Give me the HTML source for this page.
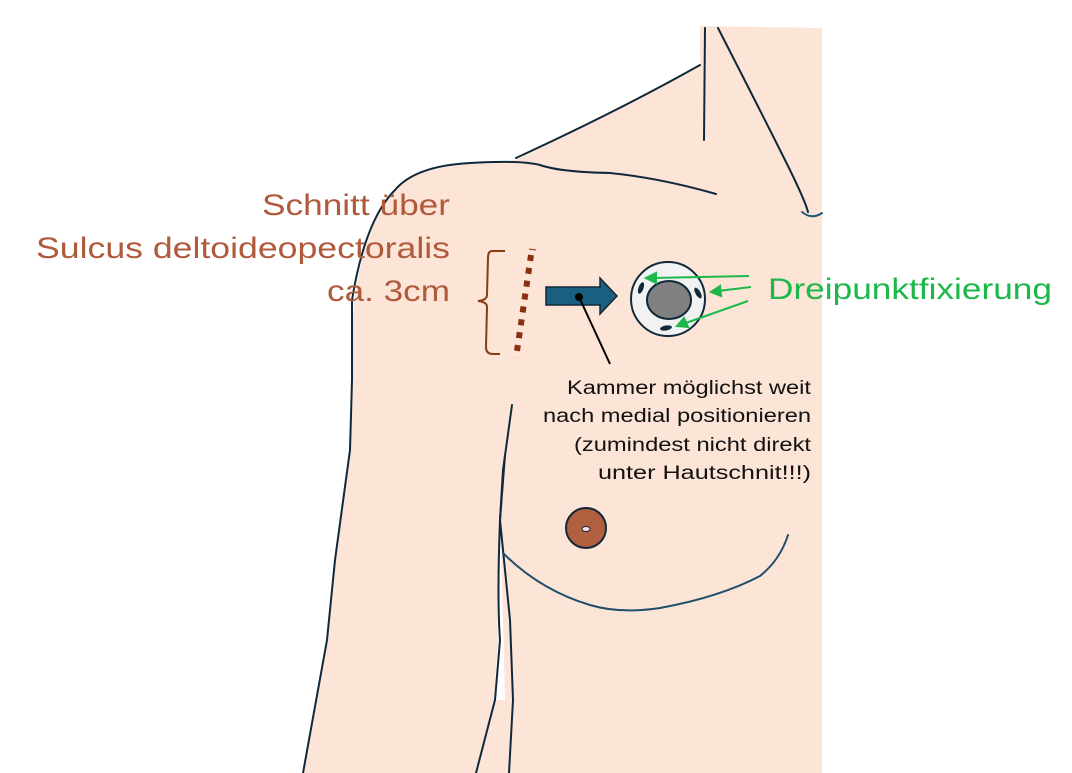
<!DOCTYPE html>
<html><head><meta charset="utf-8"><style>
body{margin:0;background:#fff;}
svg{display:block}
text{font-family:"Liberation Sans","DejaVu Sans",sans-serif}
</style></head><body>
<svg width="1072" height="773" viewBox="0 0 1072 773" xmlns="http://www.w3.org/2000/svg">
<path d="M700,26 L822,28 L822,773 L303,773 L327,640 L335,560 L350,450 L352,330 Q358,230 398,185 Q430,163 500,162 L516,160 Q610,115 700,65 Z" fill="#FCE4D6"/>
<path d="M500,520 Q496,600 498,640 L494,700 L505,700 L503,620 Z" fill="#fff"/>
<g fill="none" stroke="#10293a" stroke-width="2" stroke-linecap="round">
<path d="M705,28 L704,140"/>
<path d="M718,28 Q760,110 785,160 Q805,200 808,212"/>
<path d="M802,212 Q812,220 822,213" stroke="#1f5a7a"/>
<path d="M516,158 Q620,110 700,65"/>
<path d="M716,194 Q660,178 610,173 Q560,172 540,165 Q520,160 470,163 Q415,166 395,190 Q365,220 352,300 L352,380 L350,450 L335,560 L327,640 L303,773"/>
<path d="M512,405 L503,470 L500,520 Q497,600 500,640 L495,700 L476,773"/>
<path d="M505,455 L500,520 Q506,580 510,620 L513,700 L509,773"/>
<path d="M503,553 Q540,590 590,605 Q620,614 660,608 Q720,597 760,576 Q780,560 788,535" stroke="#1f4f6a"/>
</g>
<circle cx="586" cy="528" r="20" fill="#B0603F" stroke="#10293a" stroke-width="2"/>
<ellipse cx="586" cy="529" rx="4" ry="2.5" fill="#f6e0f0" stroke="#10293a" stroke-width="1"/>
<path d="M505,251 L492,251 Q488,251 488,258 L487,295 Q487,300 478,301 Q487,302 487,307 L486,347 Q486,354 493,354 L500,354" fill="none" stroke="#8a3b10" stroke-width="2"/>
<line x1="531" y1="255" x2="516" y2="358" stroke="#8a3010" stroke-width="6" stroke-dasharray="6,7"/>
<line x1="529" y1="249" x2="536" y2="250" stroke="#8a3010" stroke-width="1"/>
<path d="M546,287 L600,287 L600,278 L617,296 L600,314 L600,305 L546,305 Z" fill="#1a5f80" stroke="#10293a" stroke-width="1.5"/>
<line x1="579" y1="297" x2="610" y2="364" stroke="#000" stroke-width="2"/>
<circle cx="579" cy="297" r="4" fill="#000"/>
<circle cx="668" cy="299" r="37" fill="#f2f2f2" stroke="#10293a" stroke-width="2"/>
<ellipse cx="669" cy="300" rx="22" ry="19" fill="#808080" stroke="#10293a" stroke-width="2"/>
<ellipse cx="641" cy="288" rx="2.5" ry="6" fill="#10293a" transform="rotate(20 641 288)"/>
<ellipse cx="698" cy="293" rx="2.5" ry="6" fill="#10293a" transform="rotate(-30 698 293)"/>
<ellipse cx="666" cy="328" rx="6" ry="2.5" fill="#10293a" transform="rotate(-10 666 328)"/>
<g stroke="#1cb84a" stroke-width="2" fill="#1cb84a">
<line x1="749" y1="276" x2="652" y2="278"/>
<polygon points="646,278 656,273 656,283"/>
<line x1="751" y1="287" x2="718" y2="291"/>
<polygon points="711,292 720,286 721,296"/>
<line x1="748" y1="301" x2="683" y2="324"/>
<polygon points="677,326 684,318 688,327"/>
</g>
<g fill="#B05A3C" font-size="30" lengthAdjust="spacingAndGlyphs">
<text x="262" y="215" textLength="188" lengthAdjust="spacingAndGlyphs">Schnitt über</text>
<text x="36" y="258" textLength="414" lengthAdjust="spacingAndGlyphs">Sulcus deltoideopectoralis</text>
<text x="327" y="301" textLength="123" lengthAdjust="spacingAndGlyphs">ca. 3cm</text>
</g>
<text x="768" y="299" fill="#1cb84a" font-size="30" textLength="284" lengthAdjust="spacingAndGlyphs">Dreipunktfixierung</text>
<g fill="#111" font-size="19">
<text x="567" y="394" textLength="244" lengthAdjust="spacingAndGlyphs">Kammer möglichst weit</text>
<text x="543" y="422" textLength="268" lengthAdjust="spacingAndGlyphs">nach medial positionieren</text>
<text x="574" y="451" textLength="237" lengthAdjust="spacingAndGlyphs">(zumindest nicht direkt</text>
<text x="598" y="479" textLength="213" lengthAdjust="spacingAndGlyphs">unter Hautschnit!!!)</text>
</g>
</svg>
</body></html>
